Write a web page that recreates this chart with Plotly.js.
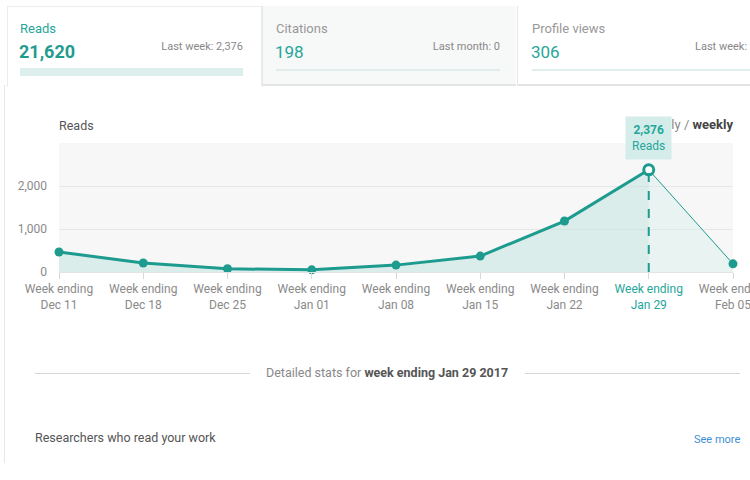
<!DOCTYPE html>
<html>
<head>
<meta charset="utf-8">
<script src="https://cdn.plot.ly/plotly-3.0.1.min.js"></script>
<style>
  html, body { margin:0; padding:0; width:750px; height:480px; overflow:hidden; background:#fff; font-family: Roboto, "Noto Sans", sans-serif; }
  .abs { position:absolute; white-space:nowrap; }
  #chart { position:absolute; left:0; top:100px; width:750px; height:220px; z-index:2; }
</style>
</head>
<body>
<!-- page frame -->
<div class="abs" style="left:4px; top:85px; width:1px; height:378px; background:#e6e6e6;"></div>

<!-- Reads card -->
<div class="abs" style="left:7px; top:6px; width:253px; height:80px; background:#fff; border:1px solid #ececec; border-bottom:none;"></div>
<div class="abs" style="left:20px; top:21px; font-size:13px; color:#26a69a;">Reads</div>
<div class="abs" style="left:19px; top:41px; font-size:18px; font-weight:bold; color:#1f9c8f;">21,620</div>
<div class="abs" style="right:507px; top:40px; font-size:11px; color:#888;">Last week: 2,376</div>
<div class="abs" style="left:20px; top:68px; width:223px; height:8px; background:#dcefec;"></div>

<!-- Citations card -->
<div class="abs" style="left:262px; top:6px; width:253px; height:78px; background:#f7f8f8; border-left:1px solid #e6e6e6; border-bottom:2px solid #e4e4e4;"></div>
<div class="abs" style="left:276px; top:21px; font-size:13px; color:#999;">Citations</div>
<div class="abs" style="left:275px; top:42px; font-size:17px; color:#26a69a;">198</div>
<div class="abs" style="right:250px; top:40px; font-size:11px; color:#888;">Last month: 0</div>
<div class="abs" style="left:276px; top:69px; width:224px; height:2px; background:#e0efee;"></div>

<!-- Profile views card -->
<div class="abs" style="left:517px; top:6px; width:233px; height:78px; background:#fff; border-left:1px solid #e6e6e6; border-bottom:2px solid #e4e4e4;"></div>
<div class="abs" style="left:532px; top:21px; font-size:13px; color:#999;">Profile views</div>
<div class="abs" style="left:531px; top:42px; font-size:17px; color:#26a69a;">306</div>
<div class="abs" style="left:695px; top:40px; font-size:11px; color:#888;">Last week:</div>
<div class="abs" style="left:532px; top:69px; width:218px; height:2px; background:#e0efee;"></div>

<!-- chart header -->
<div class="abs" style="left:59px; top:118px; font-size:12.5px; color:#555;">Reads</div>
<div class="abs" style="right:17px; top:117px; font-size:13px; color:#888; z-index:1;">Daily / <b style="color:#444;">weekly</b></div>

<div id="chart"></div>

<!-- bottom -->
<div class="abs" style="left:35px; top:373px; width:215px; height:1px; background:#d6d6d6;"></div>
<div class="abs" style="left:525px; top:373px; width:215px; height:1px; background:#d6d6d6;"></div>
<div class="abs" style="left:266px; top:365px; font-size:12.5px; color:#888;">Detailed stats for <b style="color:#555;">week ending Jan 29 2017</b></div>
<div class="abs" style="left:35px; top:430px; font-size:12.5px; color:#555;">Researchers who read your work</div>
<div class="abs" style="left:694px; top:433px; font-size:11px; color:#3d8fd6;">See more</div>

<script>
const weeks = ["Dec 11","Dec 18","Dec 25","Jan 01","Jan 08","Jan 15","Jan 22","Jan 29","Feb 05"];
const reads = [465, 210, 75, 50, 160, 370, 1185, 2376, 190];
const selectedIndex = 7;
const yTicks = [0, 1000, 2000];
const yTickText = ["0", "1,000", "2,000"];

const teal = "#1d9b8e";
const tealText = "#26a69a";

const idx = weeks.map((_, i) => i);
const tickText = weeks.map((w, i) => i === selectedIndex
  ? '<span style="color:' + tealText + '">Week ending</span><br><span style="color:' + tealText + '">' + w + '</span>'
  : 'Week ending<br>' + w);

const xa = idx.slice(0, selectedIndex + 1);
const ya = reads.slice(0, selectedIndex + 1);
const xb = idx.slice(selectedIndex);
const yb = reads.slice(selectedIndex);

const traces = [
  { x: xb, y: yb, type: "scatter", mode: "lines", fill: "tozeroy",
    fillcolor: "rgba(216,238,235,0.45)", line: { color: teal, width: 1 }, hoverinfo: "skip", cliponaxis: false },
  { x: xa, y: ya, type: "scatter", mode: "lines", fill: "tozeroy",
    fillcolor: "rgba(190,228,223,0.5)", line: { color: teal, width: 3 }, hoverinfo: "skip", cliponaxis: false },
  { x: idx.filter(i => i !== selectedIndex), y: reads.filter((_, i) => i !== selectedIndex),
    type: "scatter", mode: "markers", marker: { color: teal, size: 9 }, hoverinfo: "skip", cliponaxis: false },
  { x: [selectedIndex], y: [reads[selectedIndex]], type: "scatter", mode: "markers",
    marker: { color: "#fff", size: 10, line: { color: teal, width: 3 } }, hoverinfo: "skip", cliponaxis: false }
];

const layout = {
  width: 750, height: 220,
  margin: { l: 59, r: 17, t: 43, b: 48 },
  paper_bgcolor: "rgba(0,0,0,0)",
  plot_bgcolor: "#f7f7f7",
  showlegend: false,
  font: { family: "Roboto, 'Noto Sans', sans-serif", color: "#8a8a8a", size: 12 },
  xaxis: {
    range: [0, weeks.length - 1], tickvals: idx, ticktext: tickText,
    showgrid: false, zeroline: false, showline: true, linecolor: "#e3e3e3", linewidth: 1,
    ticks: "outside", ticklen: 6, tickcolor: "#d8d8d8", tickfont: { size: 12, color: "#8a8a8a" },
    ticklabeloverflow: "allow", fixedrange: true
  },
  yaxis: {
    range: [0, 3000], tickvals: yTicks, ticktext: yTickText,
    showgrid: true, gridcolor: "#e6e6e6", zeroline: false, showline: false,
    ticks: "", ticklabelstandoff: 11, tickfont: { size: 12, color: "#8a8a8a" }, fixedrange: true
  },
  shapes: [
    { type: "line", xref: "x", yref: "y", x0: selectedIndex, x1: selectedIndex, y0: 0, y1: reads[selectedIndex],
      line: { color: teal, width: 2, dash: "dash" }, layer: "above" }
  ],
  annotations: [
    { xref: "x", yref: "y", x: selectedIndex, y: reads[selectedIndex], yshift: 32, showarrow: false,
      text: "<b>" + reads[selectedIndex].toLocaleString("en-US") + "</b><br>Reads",
      font: { size: 12, color: tealText }, bgcolor: "#d4edea", borderpad: 6, align: "center" }
  ]
};

Plotly.newPlot("chart", traces, layout, { displayModeBar: false, staticPlot: true });
</script>
</body>
</html>
